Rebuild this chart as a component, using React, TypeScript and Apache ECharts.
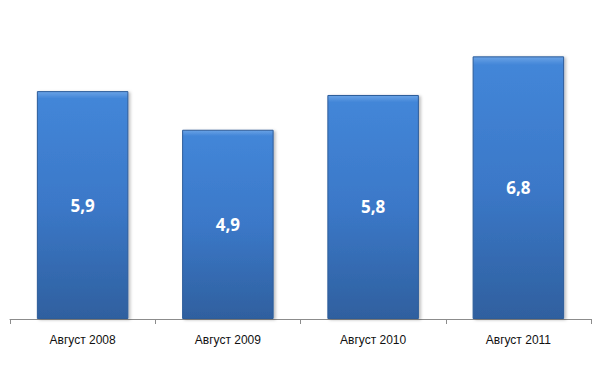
import React, { useEffect, useRef } from "react";
import * as echarts from "echarts";

const categories = ["Август 2008", "Август 2009", "Август 2010", "Август 2011"];
const values = [5.9, 4.9, 5.8, 6.8];

export default function App() {
  const ref = useRef<HTMLDivElement>(null);
  useEffect(() => {
    if (!ref.current) return;
    const chart = echarts.init(ref.current, null, { renderer: "svg" });
    chart.setOption({
      animation: false,
      backgroundColor: "#ffffff",
      grid: { left: 10, right: 9, top: 10, bottom: 47 },
      xAxis: {
        type: "category",
        data: categories,
        axisLine: { lineStyle: { color: "#8c8c8c", width: 1 } },
        axisTick: { show: true, length: 5, lineStyle: { color: "#8c8c8c" } },
        axisLabel: {
          color: "#111111",
          fontSize: 12,
          fontFamily: "Liberation Sans",
          margin: 15,
        },
      },
      yAxis: {
        type: "value",
        min: 0,
        max: 8,
        show: false,
        splitLine: { show: false },
      },
      series: [
        {
          type: "bar",
          data: values,
          barCategoryGap: "37%",
          itemStyle: {
            color: new echarts.graphic.LinearGradient(0, 0, 0, 1, [
              { offset: 0, color: "#6aa3e6" },
              { offset: 0.03, color: "#4386d8" },
              { offset: 0.5, color: "#3b78c8" },
              { offset: 1, color: "#2f609f" },
            ]),
            borderColor: "#2d5c99",
            borderWidth: 1,
            shadowColor: "rgba(0,0,0,0.25)",
            shadowBlur: 3,
            shadowOffsetX: 2,
            shadowOffsetY: 1,
          },
          label: {
            show: true,
            position: "inside",
            color: "#ffffff",
            fontSize: 17,
            fontWeight: "bold",
            fontFamily: "Open Sans",
            formatter: (p: any) => String(p.value).replace(".", ","),
          },
        },
      ],
    });
    return () => chart.dispose();
  }, []);
  return <div ref={ref} style={{ width: 600, height: 366, position: "absolute", left: 0, top: 0 }} />;
}
